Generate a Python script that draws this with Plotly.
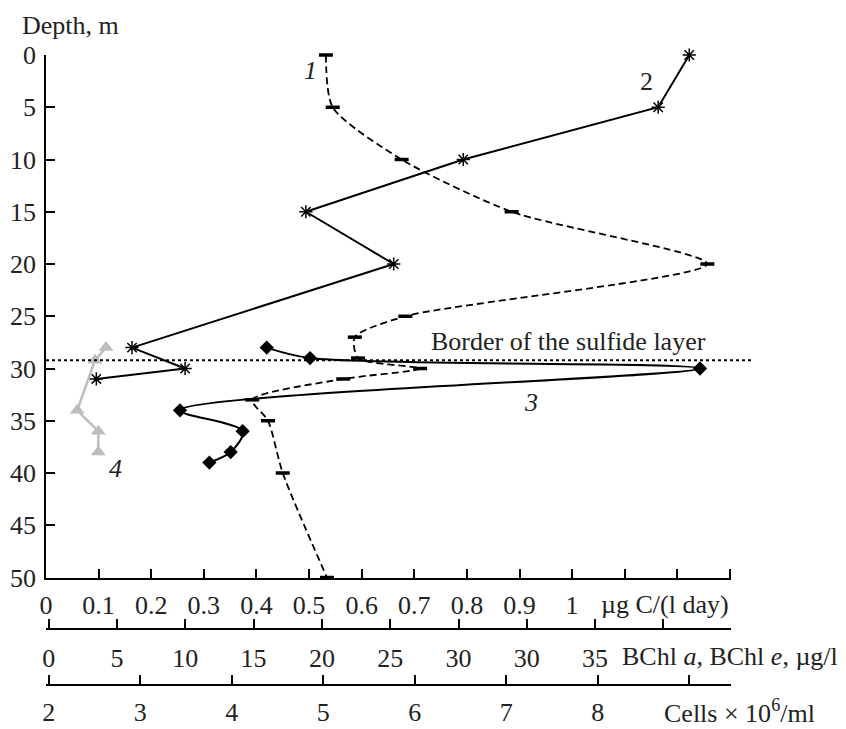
import plotly.graph_objects as go

# ---------------- data ----------------
# 1: production, µg C/(l day)  (dashed)
depth1 = [0, 5, 10, 15, 20, 25, 27, 29, 30, 31, 33, 35, 40, 50]
prod1 = [0.532, 0.545, 0.676, 0.885, 1.257, 0.683, 0.587, 0.593, 0.711, 0.565, 0.392, 0.422, 0.450, 0.534]

# 2: cells x 10^6/ml (solid, asterisks)
depth2 = [0, 5, 10, 15, 20, 28, 30, 31]
cells2 = [9.00, 8.66, 6.53, 4.81, 5.77, 2.91, 3.49, 2.52]

# 3: BChl e, µg/l (solid, diamonds)
depth3 = [28, 29, 30, 34, 36, 38, 39]
bchl3 = [15.96, 19.13, 47.68, 9.61, 14.20, 13.32, 11.76]

# 4: BChl a, µg/l (grey, triangles)
depth4 = [28, 29.2, 34, 36, 38]
bchl4 = [4.19, 3.39, 2.09, 3.63, 3.63]

sulfide_border = 29.2

y_ticks = list(range(0, 51, 5))
x1_ticks = [round(0.1 * i, 1) for i in range(14)]
x1_text = ["0", "0.1", "0.2", "0.3", "0.4", "0.5", "0.6", "0.7", "0.8", "0.9", "1", "", "", ""]
x2_ticks = list(range(0, 51, 5))
x2_text = ["0", "5", "10", "15", "20", "25", "30", "30", "35", "", ""]
x3_ticks = [2, 3, 4, 5, 6, 7, 8, 9, 9.45]
x3_text = ["2", "3", "4", "5", "6", "7", "8", "", ""]

# ---------------- layout helpers ----------------
W, H = 846, 729
ML, MR, MT, MB = 46, 115, 55, 10
PW = W - ML - MR
PH = H - MT - MB


def px_x(p):
    return (p - ML) / PW


def px_y(p):
    return (H - MB - p) / PH


FONT = "Liberation Serif"
FS = 26
TXT = "#222222"
tickfont = dict(family=FONT, size=FS, color=TXT)

fig = go.Figure()

fig.add_trace(go.Scatter(
    x=prod1, y=depth1, xaxis="x", yaxis="y", mode="lines+markers",
    line=dict(color="black", width=1.8, dash="7px,4px", shape="spline", smoothing=0.7),
    marker=dict(symbol="line-ew", size=10, color="black", line=dict(color="black", width=3.5)),
    cliponaxis=False, showlegend=False))

fig.add_trace(go.Scatter(
    x=cells2, y=depth2, xaxis="x3", yaxis="y", mode="lines+markers",
    line=dict(color="black", width=2),
    marker=dict(symbol="asterisk", size=11, color="black", line=dict(color="black", width=1.5)),
    cliponaxis=False, showlegend=False))

fig.add_trace(go.Scatter(
    x=bchl3, y=depth3, xaxis="x2", yaxis="y", mode="lines+markers",
    line=dict(color="black", width=2, shape="spline", smoothing=0.9),
    marker=dict(symbol="diamond", size=11, color="black"),
    cliponaxis=False, showlegend=False))

fig.add_trace(go.Scatter(
    x=bchl4, y=depth4, xaxis="x2", yaxis="y", mode="lines+markers",
    line=dict(color="#bdbdbd", width=2.5),
    marker=dict(symbol="triangle-up", size=13, color="#bdbdbd"),
    cliponaxis=False, showlegend=False))

axis_common = dict(
    showline=True, linecolor="black", linewidth=1.5,
    ticks="inside", ticklen=9, tickwidth=1.5, tickcolor="black",
    showgrid=False, zeroline=False, tickfont=tickfont, tickmode="array",
    automargin=False,
)

fig.update_layout(
    width=W, height=H,
    margin=dict(l=ML, r=MR, t=MT, b=MB, autoexpand=False),
    paper_bgcolor="white", plot_bgcolor="white",
    font=dict(family=FONT, size=FS, color=TXT),
    xaxis=dict(domain=[0, 1], range=[0, 1.302], anchor="y",
               tickvals=x1_ticks, ticktext=x1_text, ticklabelstandoff=4, **axis_common),
    xaxis2=dict(domain=[0, 1], range=[-0.2, 49.95], overlaying="x", anchor="free",
                position=px_y(629), side="bottom",
                tickvals=x2_ticks, ticktext=x2_text, ticklabelstandoff=6, **axis_common),
    xaxis3=dict(domain=[0, 1], range=[1.970, 9.456], overlaying="x", anchor="free",
                position=px_y(685), side="bottom",
                tickvals=x3_ticks, ticktext=x3_text, ticklabelstandoff=4, **axis_common),
    yaxis=dict(domain=[px_y(577.5), 1], range=[50, 0], anchor="x",
               tickvals=y_ticks, ticklabelstandoff=3, **axis_common),
)

fig.add_shape(type="line", xref="paper", yref="y", x0=0, x1=px_x(753),
              y0=sulfide_border, y1=sulfide_border,
              line=dict(color="black", width=2, dash="dot"))

ann = [
    ("Depth, m", 20, 26, "left"),
    ("µg C/(l day)", 599, 604, "left"),
    ("BChl <i>a</i>, BChl <i>e</i>, µg/l", 620, 656, "left"),
    ("Cells × 10<sup>6</sup>/ml", 662, 711, "left"),
    ("Border of the sulfide layer", 568, 341, "center"),
    ("<i>1</i>", 310, 71, "center"),
    ("2", 646, 82, "center"),
    ("<i>3</i>", 531, 402, "center"),
    ("<i>4</i>", 115, 468, "center"),
]
for text, x, y, xa in ann:
    fig.add_annotation(text=text, xref="paper", yref="paper", x=px_x(x), y=px_y(y),
                       xanchor=xa, yanchor="middle", showarrow=False,
                       font=dict(family=FONT, size=FS, color=TXT))

fig.write_html("out.html")
